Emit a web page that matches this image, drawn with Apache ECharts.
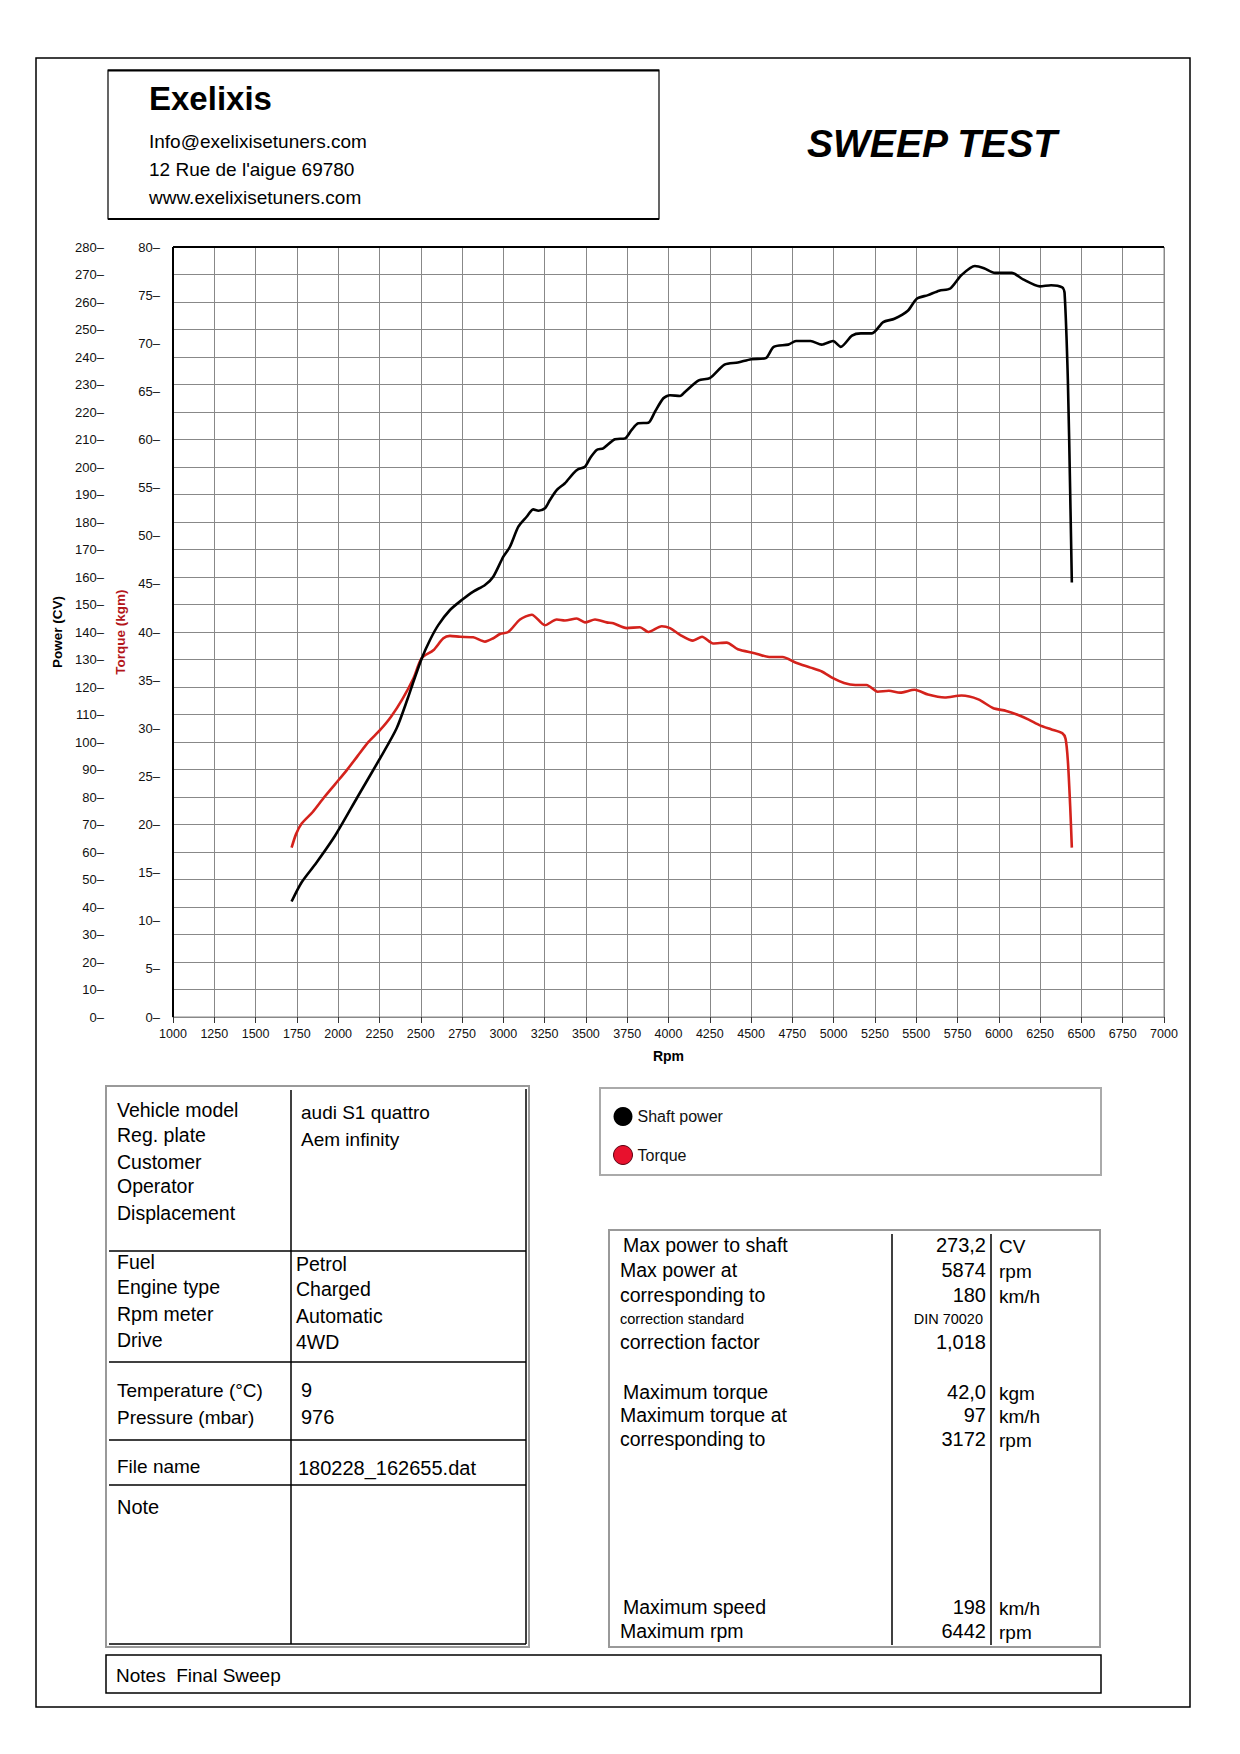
<!DOCTYPE html>
<html><head><meta charset="utf-8">
<script src="https://cdn.jsdelivr.net/npm/echarts@6/dist/echarts.min.js"></script>
<style>html,body{margin:0;padding:0;background:#fff}#c{width:1240px;height:1754px}</style>
</head><body><div id="c"></div>
<script>
// ---- Data read from the dyno sheet ----
const powerRpm = [1718,1779,1867,1982,2117,2253,2354,2422,2456,2506,2556,2606,2677,2748,2818,2889,2939,3000,3040,3091,3141,3181,3212,3252,3282,3323,3373,3424,3454,3494,3525,3565,3605,3676,3737,3777,3817,3878,3918,3969,4009,4070,4101,4183,4250,4339,4420,4501,4589,4637,4725,4772,4860,4928,4996,5043,5111,5165,5232,5300,5368,5449,5503,5571,5639,5706,5774,5855,5910,5977,6079,6147,6249,6316,6384,6398,6418,6432,6442];
const powerCV  = [42,49,56,66,80,94,105,116,122,130.4,137.1,142.5,148,151.6,154.7,157.1,160.1,167.4,171,178.3,181.9,184.6,184.1,185,188,191.6,194.1,197.7,199.2,200.1,203.2,206.2,206.8,210.1,210.4,213.5,215.9,216.1,220.1,225,226.1,225.8,227.4,231.5,232.3,237.2,238,239.2,239.6,243.7,244.5,245.8,245.8,244.5,245.8,243.7,247.8,248.6,248.6,252.7,253.9,256.8,261.2,262.5,264.1,264.9,269.8,273.1,272.3,270.6,270.6,268.2,265.7,266.1,265.3,263.3,231.5,190.7,158];
const torqueRpm = [1718,1745,1779,1846,1914,1982,2050,2117,2185,2253,2320,2388,2456,2506,2576,2637,2677,2738,2818,2889,2939,2980,3030,3101,3172,3252,3323,3373,3444,3494,3555,3626,3666,3747,3827,3878,3959,4009,4070,4148,4203,4270,4352,4420,4521,4609,4690,4772,4860,4928,4996,5063,5131,5199,5266,5334,5402,5490,5571,5672,5774,5876,5964,6045,6113,6181,6249,6316,6384,6404,6418,6432,6442];
const torqueKgm = [17.6,19.0,20.1,21.3,22.8,24.2,25.6,27.1,28.6,29.8,31.2,33.0,35.2,37.3,38.1,39.35,39.6,39.5,39.45,39.0,39.35,39.8,40.0,41.3,41.8,40.7,41.3,41.2,41.4,41.0,41.3,41.0,40.9,40.4,40.5,40.0,40.6,40.4,39.7,39.1,39.5,38.8,38.9,38.2,37.8,37.4,37.4,36.8,36.3,35.9,35.2,34.7,34.5,34.5,33.8,33.9,33.7,34.0,33.5,33.2,33.4,33.0,32.1,31.8,31.4,30.9,30.3,29.9,29.5,28.9,26.6,21.9,17.6];

const seriesNames = ['Shaft power', 'Torque'];
const headerLines = ['Info@exelixisetuners.com', "12 Rue de l'aigue 69780", 'www.exelixisetuners.com'];
const vehLabels = ['Vehicle model','Reg. plate','Customer','Operator','Displacement'];
const vehValues = ['audi S1 quattro','Aem infinity'];
const engLabels = ['Fuel','Engine type','Rpm meter','Drive'];
const engValues = ['Petrol','Charged','Automatic','4WD'];
const envLabels = ['Temperature (\u00B0C)','Pressure (mbar)'];
const envValues = ['9','976'];
const resLabels = ['Max power to shaft','Max power at','corresponding to','correction standard','correction factor','Maximum torque','Maximum torque at','corresponding to','Maximum speed','Maximum rpm'];
const resValues = ['273,2','5874','180','DIN 70020','1,018','42,0','97','3172','198','6442'];
const resUnits  = ['CV','rpm','km/h','','','kgm','km/h','rpm','km/h','rpm'];

// ---- Layout ----
const FF = '"Liberation Sans", Arial, Helvetica, sans-serif';
const G = {l:173, t:247, r:1164, b:1017};

function T(text, x, y, size, o) {
  o = o || {};
  const al = o.align || 'left';
  return {type:'text', x:x, y:y, silent:true, z:10,
    style:{text:text, fontSize:size, fontFamily:o.family||FF, fontWeight:o.weight||'normal',
      fontStyle:o.style||'normal', fill:o.color||'#000', textAlign:al, textVerticalAlign:'middle',
      align:al, verticalAlign:'middle'}};
}
function R(x1,y1,x2,y2,stroke,w) {
  return {type:'rect', silent:true, z:5, shape:{x:x1,y:y1,width:x2-x1,height:y2-y1},
    style:{fill:'none', stroke:stroke, lineWidth:w}};
}
function L(x1,y1,x2,y2,stroke,w) {
  return {type:'line', silent:true, z:6, shape:{x1:x1,y1:y1,x2:x2,y2:y2}, style:{stroke:stroke, lineWidth:w}};
}

const gr = [];
// outer frame
gr.push(R(36,58,1190,1707,'#000',1.5));
// header box
gr.push(R(108,70,659,219,'#000',1.2));
gr.push(L(108,70.5,659,70.5,'#000',2));
gr.push(L(108,219,659,219,'#000',2));
gr.push(T('Exelixis',149,98,33,{weight:'bold'}));
headerLines.forEach((s,i)=>gr.push(T(s,149,141+i*28,19)));
gr.push(T('SWEEP TEST',932,143,39,{weight:'bold',style:'italic',align:'center'}));
// plot frame (black top/left)
gr.push(L(G.l,G.t,G.r,G.t,'#000',2));
gr.push(L(G.l,G.t,G.l,G.b,'#000',2));

// left table
gr.push(R(106,1086,529,1647,'#999',2));
gr.push(L(526,1089,526,1644,'#000',1.5));
gr.push(L(109,1644,526,1644,'#000',1.5));
gr.push(L(291,1090,291,1644,'#000',1.5));
[1251,1362,1440,1485].forEach(y=>gr.push(L(109,y,526,y,'#000',1.5)));
const vehY=[1110,1135,1162,1186,1213];
vehLabels.forEach((s,i)=>gr.push(T(s,117,vehY[i],19.5)));
vehValues.forEach((s,i)=>gr.push(T(s,301,[1112,1139][i],19)));
const engY=[1262,1287,1314,1340];
engLabels.forEach((s,i)=>gr.push(T(s,117,engY[i],19.5)));
engValues.forEach((s,i)=>gr.push(T(s,296,engY[i]+2,19.5)));
envLabels.forEach((s,i)=>gr.push(T(s,117,[1390,1417][i],19)));
envValues.forEach((s,i)=>gr.push(T(s,301,[1390,1417][i],20)));
gr.push(T('File name',117,1466,19));
gr.push(T('180228_162655.dat',298,1468,20));
gr.push(T('Note',117,1507,20));

// legend box
gr.push(R(600,1088,1101,1175,'#aaa',2));

// results table
gr.push(R(609,1230,1100,1647,'#999',2));
gr.push(L(892,1234,892,1645,'#000',1.5));
gr.push(L(991,1234,991,1645,'#000',1.5));
const resY=[1245,1270,1295,1319,1342,1392,1415,1439,1607,1631];
resLabels.forEach((s,i)=>{
  const small = (s==='correction standard');
  gr.push(T(s, i===0||i===5||i===8 ? 623 : 620, resY[i], small?14.5:19.5));
});
resValues.forEach((s,i)=>{
  const small = (s==='DIN 70020');
  gr.push(T(s, small?983:986, resY[i], small?14.5:20, {align:'right'}));
});
resUnits.forEach((s,i)=>{ if(s) gr.push(T(s,999,resY[i]+1,19)); });

// notes box
gr.push(R(106,1655,1101,1693,'#000',1.5));
gr.push(T('Notes  Final Sweep',116,1675,19));

const chart = echarts.init(document.getElementById('c'), null, {renderer:'svg'});
chart.setOption({
  backgroundColor:'#fff',
  animation:false,
  grid:{left:G.l, top:G.t, width:G.r-G.l, height:G.b-G.t, show:true, borderColor:'#888', borderWidth:1, containLabel:false},
  legend:{orient:'vertical', left:608, top:1102, itemWidth:19, itemHeight:19, itemGap:19, icon:'circle',
    textStyle:{fontSize:16, fontFamily:FF, color:'#111'},
    data:[{name:seriesNames[0], itemStyle:{color:'#000'}},
          {name:seriesNames[1], itemStyle:{color:'#e8112d', borderColor:'#5a0010', borderWidth:1}}]},
  xAxis:{type:'value', min:1000, max:7000, interval:250,
    name:'Rpm', nameLocation:'middle', nameGap:32,
    nameTextStyle:{fontSize:14, fontWeight:'bold', fontFamily:FF, color:'#000'},
    axisLine:{show:true, lineStyle:{color:'#888', width:1}},
    axisTick:{show:true, inside:false, length:6, lineStyle:{color:'#333'}},
    axisLabel:{margin:10, fontSize:12.5, fontFamily:FF, color:'#111', formatter:v=>String(v)},
    splitLine:{show:true, lineStyle:{color:'#888', width:1}}},
  yAxis:[
    {type:'value', min:0, max:280, interval:10, position:'left', offset:66,
     name:'Power (CV)', nameLocation:'middle', nameRotate:90, nameGap:42,
     nameTextStyle:{fontSize:13.5, fontWeight:'bold', fontFamily:FF, color:'#000'},
     axisLine:{show:false}, axisTick:{show:false},
     axisLabel:{margin:3, fontSize:13, fontFamily:FF, color:'#111', formatter:v=>v+'\u2013'},
     splitLine:{show:true, lineStyle:{color:'#888', width:1}}},
    {type:'value', min:0, max:80, interval:5, position:'left', offset:10,
     name:'Torque (kgm)', nameLocation:'middle', nameRotate:90, nameGap:33,
     nameTextStyle:{fontSize:13.5, fontWeight:'bold', fontFamily:FF, color:'#b3161b'},
     axisLine:{show:false}, axisTick:{show:false},
     axisLabel:{margin:3, fontSize:13, fontFamily:FF, color:'#111', formatter:v=>v+'\u2013'},
     splitLine:{show:false}}
  ],
  series:[
    {name:seriesNames[0], type:'line', yAxisIndex:0, showSymbol:false, smooth:0.25, z:4,
     lineStyle:{color:'#000', width:2.6}, itemStyle:{color:'#000'},
     data:powerRpm.map((r,i)=>[r,powerCV[i]])},
    {name:seriesNames[1], type:'line', yAxisIndex:1, showSymbol:false, smooth:0.25, z:3,
     lineStyle:{color:'#d4221c', width:2.6}, itemStyle:{color:'#d4221c'},
     data:torqueRpm.map((r,i)=>[r,torqueKgm[i]])}
  ],
  graphic:{elements:gr}
});
</script></body></html>
